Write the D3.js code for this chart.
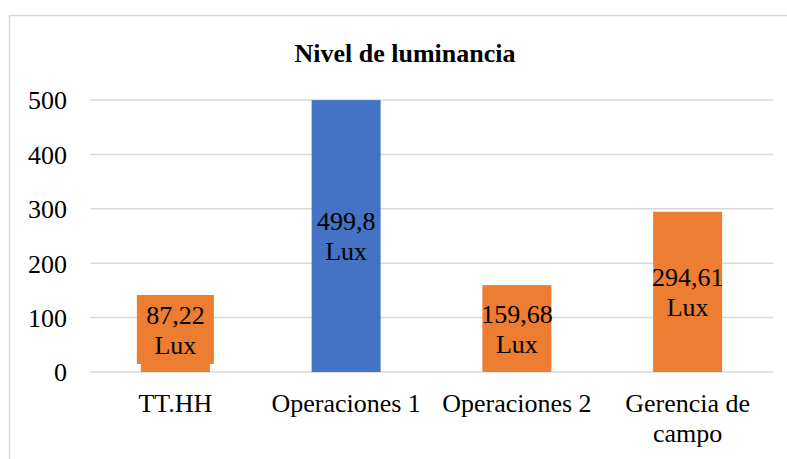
<!DOCTYPE html>
<html>
<head>
<meta charset="utf-8">
<title>Nivel de luminancia</title>
<script src="https://cdn.jsdelivr.net/npm/d3@7"></script>
<style>
  body { margin: 0; background: #fff; }
  text { font-family: "Liberation Serif", "Times New Roman", serif; fill: #000; }
</style>
</head>
<body>
<script>
// chart data
var categories = ["TT.HH", "Operaciones 1", "Operaciones 2", "Gerencia de campo"];
var values = [87.22, 499.8, 159.68, 294.61];
var valueLabels = ["87,22", "499,8", "159,68", "294,61"];
var barColors = ["#ED7D31", "#4472C4", "#ED7D31", "#ED7D31"];
var yTicks = [0, 100, 200, 300, 400, 500];

var width = 787, height = 459;
var plot = {left: 90, right: 773, top: 100, bottom: 372};

var svg = d3.select("body").append("svg")
    .attr("width", width)
    .attr("height", height);

// chart border (runs off to the right and bottom)
svg.append("rect")
    .attr("x", 9.5).attr("y", 15.5)
    .attr("width", 900).attr("height", 600)
    .attr("fill", "none")
    .attr("stroke", "#d9d9d9")
    .attr("stroke-width", 1.5);

// title
svg.append("text")
    .attr("x", 405).attr("y", 62)
    .attr("text-anchor", "middle")
    .attr("font-weight", "bold")
    .attr("font-size", 26)
    .text("Nivel de luminancia");

var x = d3.scaleBand()
    .domain(categories)
    .range([plot.left, plot.right])
    .paddingInner(0.596)
    .paddingOuter(0.298);

var y = d3.scaleLinear()
    .domain([0, 500])
    .range([plot.bottom, plot.top]);

// gridlines
svg.append("g")
  .selectAll("line")
  .data(yTicks)
  .join("line")
    .attr("x1", plot.left).attr("x2", plot.right)
    .attr("y1", d => y(d)).attr("y2", d => y(d))
    .attr("stroke", "#d9d9d9")
    .attr("stroke-width", 1.5);

// y axis labels
var yAxis = svg.append("g")
    .attr("transform", "translate(67,0)")
    .call(d3.axisLeft(y).tickValues(yTicks).tickSize(0).tickPadding(0));
yAxis.select(".domain").remove();
yAxis.selectAll("text")
    .attr("font-size", 26)
    .attr("font-family", "Liberation Serif, serif")
    .attr("dy", "0.34em");

// bars
svg.append("g")
  .selectAll("rect")
  .data(values)
  .join("rect")
    .attr("x", (d, i) => x(categories[i]))
    .attr("y", d => y(d))
    .attr("width", x.bandwidth())
    .attr("height", d => y(0) - y(d))
    .attr("fill", (d, i) => barColors[i]);

// data labels (two lines, centered in the bar)
var lineH = 30, boxH = 69, boxW = 77;
values.forEach(function(v, i) {
  var cx = x(categories[i]) + x.bandwidth() / 2;
  var cy = (y(v) + y(0)) / 2;
  // keep the label box inside the plot area
  if (cy + boxH / 2 > y(0) - 8) {
    cy = y(0) - 8 - boxH / 2;
    svg.append("rect")
        .attr("x", cx - boxW / 2).attr("y", cy - boxH / 2)
        .attr("width", boxW).attr("height", boxH)
        .attr("fill", barColors[i]);
  }
  var t = svg.append("text")
      .attr("text-anchor", "middle")
      .attr("font-size", 26);
  t.append("tspan").attr("x", cx).attr("y", cy - 6).text(valueLabels[i]);
  t.append("tspan").attr("x", cx).attr("y", cy - 6 + lineH).text("Lux");
});

// x axis labels
var xAxis = svg.append("g")
    .attr("transform", "translate(0," + plot.bottom + ")")
    .call(d3.axisBottom(x).tickSize(0).tickPadding(0));
xAxis.select(".domain").remove();
xAxis.selectAll("text").remove();
xAxis.selectAll(".tick").each(function(d) {
  var words = d === "Gerencia de campo" ? ["Gerencia de", "campo"] : [d];
  var t = d3.select(this).append("text")
      .attr("text-anchor", "middle")
      .attr("font-size", 26)
      .attr("font-family", "Liberation Serif, serif")
      .attr("fill", "#000");
  words.forEach(function(w, k) {
    t.append("tspan").attr("x", 0).attr("y", 40 + k * lineH).text(w);
  });
});
</script>
</body>
</html>
